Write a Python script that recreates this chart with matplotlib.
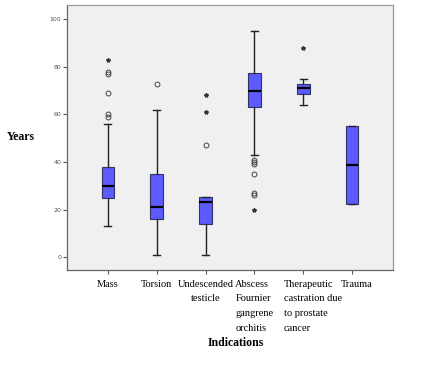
import numpy as np
import matplotlib
matplotlib.use("Agg")
import matplotlib.pyplot as plt
import matplotlib.transforms as mtransforms

# Box summaries (years)
indications = ["Mass", "Torsion", "Undescended\ntesticle",
               "Abscess\nFournier\ngangrene\norchitis",
               "Therapeutic\ncastration due\nto prostate\ncancer", "Trauma"]
q1      = [25, 16, 14, 63, 68.5, 22.3]
median  = [30, 21, 23, 69.7, 71, 38.7]
q3      = [38, 35, 25.2, 77.3, 72.7, 55]
whis_lo = [13, 1, 1, 43, 64, 22.3]
whis_hi = [56, 62, 25.2, 95, 75, 55]
circles = [[59, 60, 69, 77, 78], [73], [47], [41, 40, 39, 35, 27, 26], [], []]
stars   = [[83], [], [68, 61], [20], [88], []]

stats = []
for i in range(len(indications)):
    stats.append(dict(q1=q1[i], med=median[i], q3=q3[i],
                      whislo=whis_lo[i], whishi=whis_hi[i],
                      fliers=circles[i]))

fig = plt.figure(figsize=(4.26, 3.68), dpi=100)
ax = fig.add_axes([0.157, 0.266, 0.7655, 0.72])
ax.set_facecolor("#f0f0f0")

pos = np.arange(1, len(indications) + 1)
ax.bxp(stats, positions=pos, widths=0.26, capwidths=0.14, patch_artist=True,
       boxprops=dict(facecolor="#5b5bff", edgecolor="#333366", linewidth=0.8),
       medianprops=dict(color="black", linewidth=1.6),
       whiskerprops=dict(color="#222222", linewidth=1.0),
       capprops=dict(color="#222222", linewidth=1.0),
       flierprops=dict(marker="o", markersize=3.5, markerfacecolor="none",
                       markeredgecolor="#444444", markeredgewidth=0.7))

for p, s in zip(pos, stars):
    if s:
        ax.plot([p] * len(s), s, linestyle="none", marker="*", markersize=3,
                color="#333333")

ax.set_xlim(0.16, 6.84)
ax.set_ylim(-5.5, 106)
ax.set_yticks([0, 20, 40, 60, 80, 100])
ax.tick_params(axis="y", labelsize=4.5, labelcolor="#555555", length=3,
               color="#555555", width=0.8, pad=1)
ax.set_xticks(pos)
ax.set_xticklabels(indications, family="Liberation Serif", fontsize=7.5,
                   linespacing=1.8)
ax.tick_params(axis="x", length=3, color="#555555", width=0.8, pad=4)
shifts = [0, 0, 0, 0, 10, 5]
for lab, dx in zip(ax.get_xticklabels(), shifts):
    lab.set_multialignment("left")
    if dx:
        lab.set_transform(lab.get_transform() +
                          mtransforms.ScaledTranslation(dx / 100, 0, fig.dpi_scale_trans))
ax.get_xticklabels()[2].set_multialignment("center")

for sp in ax.spines.values():
    sp.set_color("#999999")
    sp.set_linewidth(0.9)
ax.spines["left"].set_color("#666666")
ax.spines["bottom"].set_color("#666666")

fig.text(21 / 426, 1 - 137 / 368, "Years", family="Liberation Serif",
         fontweight="bold", fontsize=8.5, ha="center", va="center")
fig.text(236 / 426, 1 - 343 / 368, "Indications", family="Liberation Serif",
         fontweight="bold", fontsize=8.5, ha="center", va="center")

fig.savefig("out.png", dpi=100)
